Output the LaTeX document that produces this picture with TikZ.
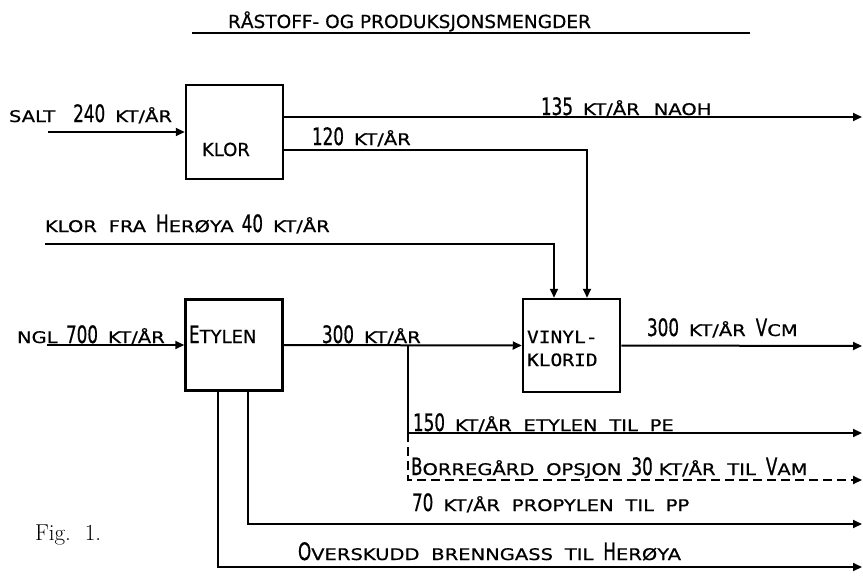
\documentclass[tikz,border=0pt]{standalone}
\usepackage{fontspec}
\usepackage{tikz}
\usetikzlibrary{arrows.meta}
\newfontfamily\smf[FakeStretch=1.22,FakeBold=0.6,WordSpace=1.9]{DejaVu Sans}
\newfontfamily\lgf[FakeStretch=0.7,FakeBold=0.6,WordSpace=2.2]{DejaVu Sans}
\newfontfamily\mdf[FakeBold=0.6]{DejaVu Sans}
\newfontfamily\ttlf[FakeStretch=1.03,FakeBold=0.6]{DejaVu Sans}
\newfontfamily\monof[FakeStretch=1.15,FakeBold=0.6]{DejaVu Sans Mono}
\newcommand{\txS}[1]{{\smf\fontsize{16}{16}\selectfont #1}}
\newcommand{\txL}[1]{{\lgf\fontsize{24}{24}\selectfont #1}}
\newcommand{\txM}[1]{{\mdf\fontsize{18}{18}\selectfont #1}}
\newcommand{\gap}{\hspace{10pt}}
\tikzset{
  flow/.style={line width=2pt},
  arr/.style={flow,-{Triangle[length=9pt,width=8pt]}},
  darr/.style={arr,dash pattern=on 9pt off 5pt},
  boxnode/.style={draw,line width=2.5pt,minimum width=97pt,minimum height=94pt,inner sep=0pt},
  lbl/.style={anchor=base west,inner sep=0pt,outer sep=0pt}
}
\begin{document}
\begin{tikzpicture}[x=1pt,y=-1pt]
\fill[white] (0,0) rectangle (863,576);
\useasboundingbox (0,0) rectangle (863,576);
% title
\node[lbl] (title) at (228,28) {\ttlf\fontsize{18}{18}\selectfont RÅSTOFF- OG PRODUKSJONSMENGDER};
\coordinate (tl) at (192,33);
\coordinate (tr) at (750,33);
\draw[line width=2.5pt] (tl) -- (tr);
% boxes
\node[boxnode,minimum height=94pt] (klor) at (234.5,132) {};
\node[boxnode,minimum height=91pt] (etylen) at (234,345) {};
\node[boxnode,minimum height=93pt] (vinyl) at (571.5,345.5) {};
\node[lbl] (klort) at (202,156) {\txM{KLOR}};
\node[lbl] (etylt) at (189,343) {\txL{E}\txM{TYLEN}};
\node[lbl] (vint) at (527,343) {\monof\fontsize{17}{17}\selectfont VINYL-};
\node[lbl] (vint2) at (527,366) {\monof\fontsize{17}{17}\selectfont KLORID};
% free ends
\coordinate (saltin) at (48,132);
\coordinate (naohend) at (862,117);
\coordinate (c120) at (587,150);
\coordinate (klin) at (45,244);
\coordinate (c40) at (554,244);
\coordinate (nglin) at (47,345);
\coordinate (split) at (408,345);
\coordinate (c150) at (408,433);
\coordinate (e150) at (862,433);
\coordinate (c30) at (408,480);
\coordinate (e30) at (862,480);
\coordinate (c70) at (248,524);
\coordinate (e70) at (862,524);
\coordinate (cov) at (218,567);
\coordinate (eov) at (862,567);
\coordinate (evcm) at (862,346);
% connectors
\draw[arr] (saltin) -- (klor.west);
\draw[arr] (klor.east |- naohend) -- (naohend);
\draw[arr] (klor.east |- c120) -- (c120) -- (c120 |- vinyl.north);
\draw[arr] (klin) -- (c40) -- (c40 |- vinyl.north);
\draw[arr] (nglin) -- (etylen.west);
\draw[arr] (etylen.east) -- (vinyl.west);
\draw[arr] (vinyl.east) -- (evcm);
\draw[flow] (split) -- (c150);
\draw[arr] (c150) -- (e150);
\draw[darr] (c150) -- (c30) -- (e30);
\draw[arr] (c70 |- etylen.south) -- (c70) -- (e70);
\draw[arr] (cov |- etylen.south) -- (cov) -- (eov);
% labels
\node[lbl] (lsalt) at (9,122) {\txS{SALT}\hspace{18pt}\txL{240}\gap\txS{KT/ÅR}};
\node[lbl] (l135) at (541,115) {\txL{135}\gap\txS{KT/ÅR\hspace{14pt}NAOH}};
\node[lbl] (l120) at (312,145) {\txL{120}\gap\txS{KT/ÅR}};
\node[lbl] (lkl) at (45,232) {\txS{KLOR FRA}\gap\txL{H}\txS{ERØYA}\hspace{8pt}\txL{40}\gap\txS{KT/ÅR}};
\node[lbl] (lngl) at (17,343) {\txS{NGL}};
\node[lbl] (l700) at (66,343) {\txL{700}\gap\txS{KT/ÅR}};
\node[lbl] (l300) at (322,343) {\txL{300}\gap\txS{KT/ÅR}};
\node[lbl] (lvcm) at (647,336) {\txL{300}\gap\txS{KT/ÅR}\gap\txL{V}\txS{CM}};
\node[lbl] (l150) at (413,431) {\txL{150}\gap\txS{KT/ÅR ETYLEN TIL PE}};
\node[lbl] (l30) at (411,475) {\txL{B}\txS{ORREGÅRD OPSJON}\gap\txL{30}\hspace{6pt}\txS{KT/ÅR TIL}\gap\txL{V}\txS{AM}};
\node[lbl] (l70) at (412,511) {\txL{70}\gap\txS{KT/ÅR PROPYLEN TIL PP}};
\node[lbl] (lov) at (298,560) {\txL{O}\txS{VERSKUDD BRENNGASS TIL}\gap\txL{H}\txS{ERØYA}};
\node[lbl] (fig) at (35,540) {\fontsize{23}{23}\selectfont\rmfamily Fig.\ \ 1.};
\end{tikzpicture}
\end{document}
